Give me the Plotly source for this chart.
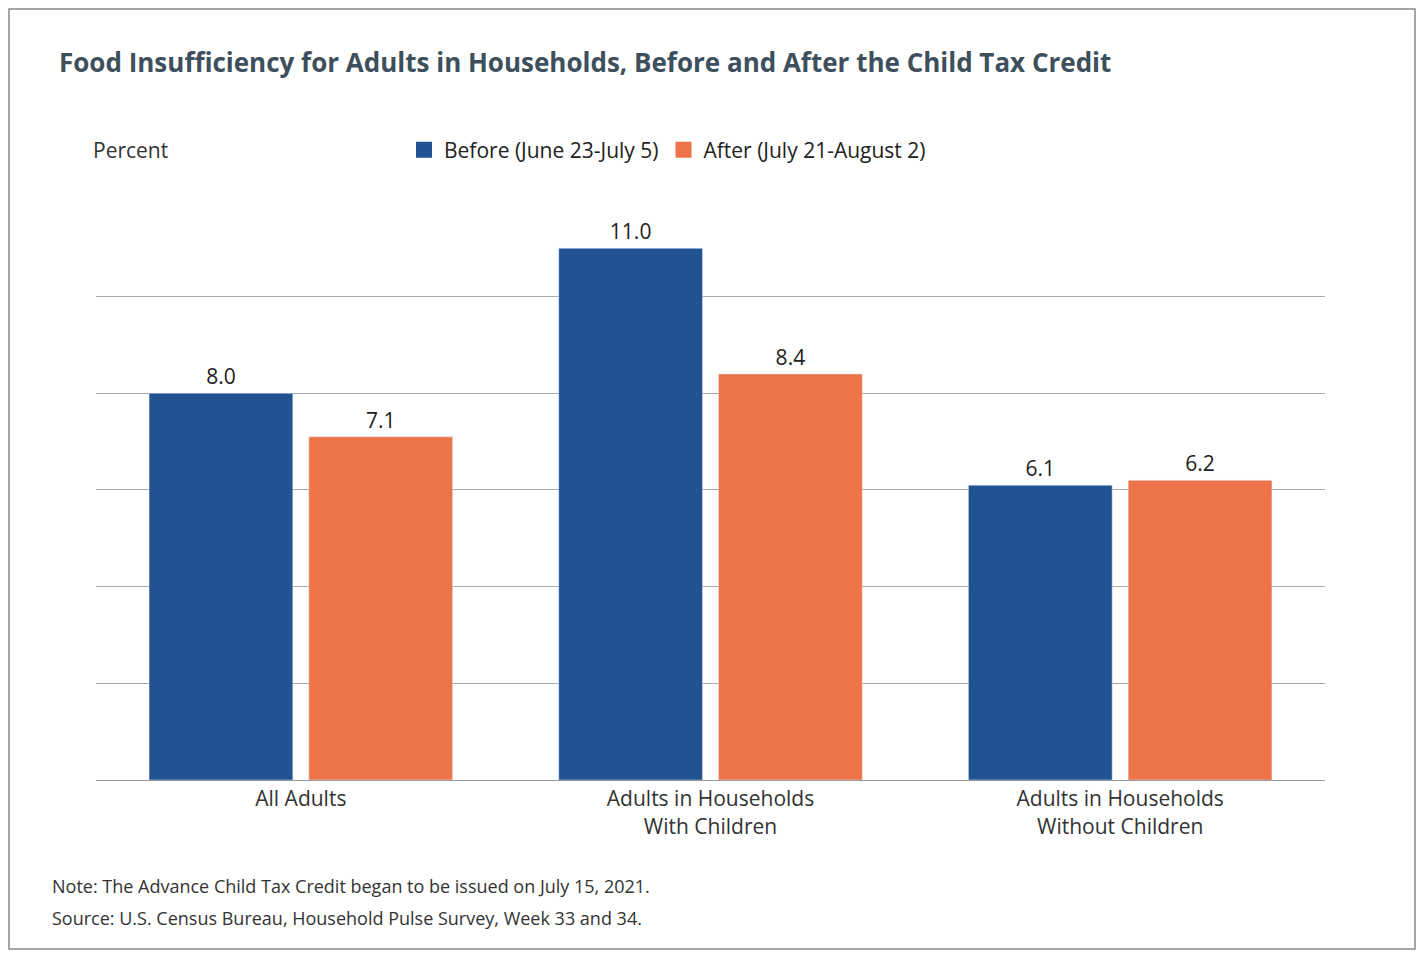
import plotly.graph_objects as go

categories = ["All Adults", "Adults in Households<br>With Children", "Adults in Households<br>Without Children"]
before = [8.0, 11.0, 6.1]
after = [7.1, 8.4, 6.2]
series_names = ["Before (June 23-July 5)", "After (July 21-August 2)"]
colors = ["#215292", "#ec7448"]

# page has an 8px body margin, so shift everything by it
OFF = 8
W, H = 1425 - 2 * OFF, 959 - 2 * OFF
L, R, T, B = 96 - OFF, 100 - OFF, 199 - OFF, 179 - OFF
pw, ph = W - L - R, H - T - B

def px(x):
    return (x - OFF - L) / pw

def py(y):
    return (H - B - (y - OFF)) / ph

fig = go.Figure()
for vals, name, c in zip([before, after], series_names, colors):
    fig.add_trace(go.Bar(x=categories, y=vals, name=name, marker_color=c, showlegend=False,
                         text=[f"{v:.1f}" for v in vals], textposition="outside", cliponaxis=False,
                         textfont=dict(size=21, color="#222")))

# legend entries with big square swatches
for name, c in zip(series_names, colors):
    fig.add_trace(go.Scatter(x=[None], y=[None], mode="markers", name=name,
                             marker=dict(symbol="square", size=26, color=c)))

fig.update_layout(
    width=W, height=H,
    margin=dict(l=L, r=R, t=T, b=B),
    paper_bgcolor="white", plot_bgcolor="white",
    font=dict(family="Open Sans", color="#333"),
    barmode="group", bargap=0.22, bargroupgap=0.1,
    legend=dict(orientation="h", x=px(404), y=py(150), yanchor="middle", xanchor="left",
                font=dict(size=21, color="#222"), traceorder="normal"),
    xaxis=dict(tickfont=dict(size=21, color="#333"), showline=True, linecolor="#999", ticks=""),
    yaxis=dict(range=[0, 12.02], dtick=2, showticklabels=False, gridcolor="#aaa", gridwidth=1.3,
               zeroline=False),
)

fig.add_annotation(text="<b>Food Insufficiency for Adults in Households, Before and After the Child Tax Credit</b>",
                   x=px(57), y=py(62), xref="paper", yref="paper", xanchor="left", yanchor="middle",
                   showarrow=False, font=dict(size=26, color="#3d4f5c"))
fig.add_annotation(text="Percent", x=px(91), y=py(150), xref="paper", yref="paper", xanchor="left",
                   yanchor="middle", showarrow=False, font=dict(size=21, color="#333"))
fig.add_annotation(text="Note: The Advance Child Tax Credit began to be issued on July 15, 2021.",
                   x=px(50), y=py(886), xref="paper", yref="paper", xanchor="left", yanchor="middle",
                   showarrow=False, font=dict(size=18, color="#333"))
fig.add_annotation(text="Source: U.S. Census Bureau, Household Pulse Survey, Week 33 and 34.",
                   x=px(50), y=py(918), xref="paper", yref="paper", xanchor="left", yanchor="middle",
                   showarrow=False, font=dict(size=18, color="#333"))
fig.add_shape(type="rect", xref="paper", yref="paper", x0=px(9), x1=px(1415), y0=py(949), y1=py(9),
              line=dict(color="#888", width=1.5))

fig.write_html("out.html")
